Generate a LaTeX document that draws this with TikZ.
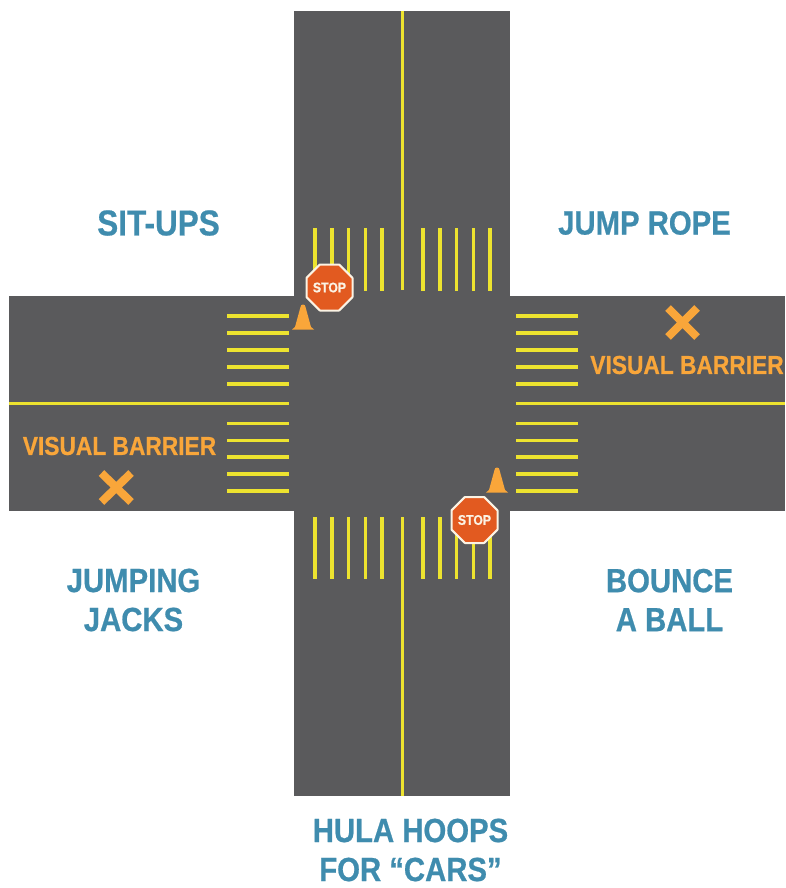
\documentclass[tikz,border=0pt]{standalone}
\usepackage{fontspec}
\setmainfont{Liberation Sans}[FakeStretch=0.875,BoldFont={Liberation Sans Bold},BoldFeatures={FakeStretch=0.875,FakeBold=0.6}]
\definecolor{road}{HTML}{5A5A5C}
\definecolor{lane}{HTML}{EDE32F}
\definecolor{lbl}{HTML}{3F8CAE}
\definecolor{cone}{HTML}{F9A63A}
\definecolor{stopred}{HTML}{E25A20}
\definecolor{signedge}{HTML}{FBF3E4}
\tikzset{
  x=1pt,y=-1pt,
  bar/.style={line width=3.8pt,draw=lane},
  title/.style={text=lbl,font=\bfseries\fontsize{33.5}{39}\selectfont,align=center,inner sep=0pt},
  barrier/.style={text=cone,font=\bfseries\fontsize{26}{30}\selectfont,inner sep=0pt},
  signtext/.style={text=signedge,font=\bfseries\fontsize{14}{14}\selectfont,inner sep=0pt},
  octo/.style={fill=stopred,draw=signedge,line width=2pt,line join=round},
  xmark/.style={draw=cone,line width=8pt},
  conefill/.style={fill=cone,draw=none}
}
\newcommand{\stopsign}[2]{%
  \filldraw[octo] (#1-9.6,#2-23) -- (#1+9.6,#2-23) -- (#1+23,#2-9.6) -- (#1+23,#2+9.6) -- (#1+9.6,#2+23) -- (#1-9.6,#2+23) -- (#1-23,#2+9.6) -- (#1-23,#2-9.6) -- cycle;
  \node[signtext] at (#1,#2) {STOP};}
\newcommand{\trafficcone}[2]{%
  \fill[conefill] (#1-11,#2+1.5) -- (#1-8,#2-1) -- (#1-2.5,#2-21) arc[start angle=180,end angle=360,radius=2.5] -- (#1+8,#2-1) -- (#1+11,#2+1.5) -- cycle;}
\begin{document}
\begin{tikzpicture}
\useasboundingbox (0,0) rectangle (785,888);
\fill[white] (0,0) rectangle (785,888);
\fill[road] (294,11) rectangle (510,796);
\fill[road] (9,296) rectangle (785,511);
\coordinate (ct) at (402.5,11); \coordinate (cti) at (402.5,290);
\coordinate (cb) at (402.5,796); \coordinate (cbi) at (402.5,517);
\coordinate (cl) at (9,403.5); \coordinate (cli) at (289,403.5);
\coordinate (cr) at (785,403.5); \coordinate (cri) at (516,403.5);
\draw[bar] (ct)--(cti); \draw[bar] (cb)--(cbi); \draw[bar] (cl)--(cli); \draw[bar] (cr)--(cri);
\foreach \x in {315,331.7,348.5,365.5,382,423,440,456.5,473.5,490}{
  \draw[bar] (\x,228)--(\x,290.5);
  \draw[bar] (\x,517)--(\x,578.5);
}
\foreach \y in {316,333,350,367,384,423.5,440.5,457,474,491}{
  \draw[bar] (227,\y)--(289,\y);
  \draw[bar] (516,\y)--(578,\y);
}
\stopsign{329.5}{287.5}
\stopsign{474.5}{520}
\trafficcone{303}{328}
\trafficcone{497}{491}
\draw[xmark] (668,308)--(697,337) (697,308)--(668,337);
\draw[xmark] (101.5,473)--(131,502) (131,473)--(101.5,502);
\node[barrier] (vb1) at (687,365) {VISUAL BARRIER};
\node[barrier] (vb2) at (119.5,446) {VISUAL BARRIER};
\node[title,font=\bfseries\fontsize{36}{39}\selectfont] (t1) at (158.5,223) {SIT-UPS};
\node[title] (t2) at (644.5,223) {JUMP ROPE};
\node[title] (t3) at (133.5,600) {JUMPING\\JACKS};
\node[title] (t4) at (669.5,600) {BOUNCE\\A BALL};
\node[title] (t5) at (410.5,850) {HULA HOOPS\\FOR “CARS”};
\end{tikzpicture}
\end{document}
